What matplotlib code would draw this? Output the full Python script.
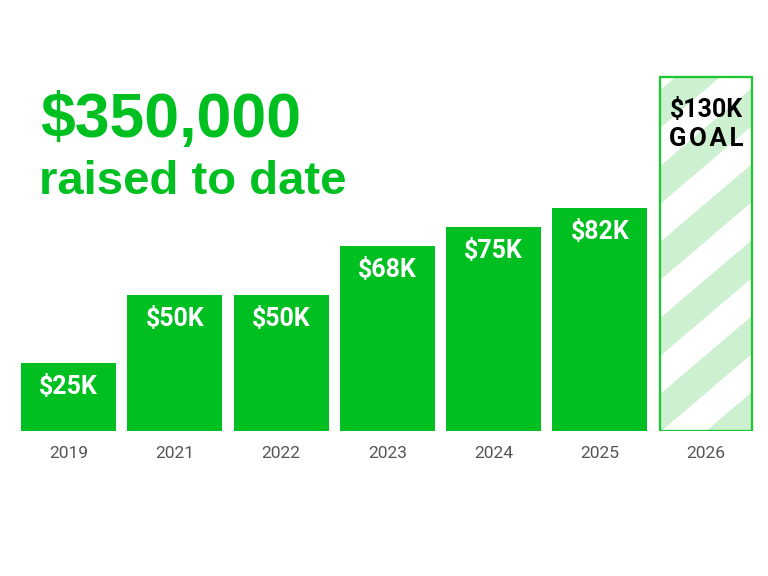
import matplotlib
matplotlib.use("Agg")
import matplotlib.pyplot as plt
from matplotlib.transforms import IdentityTransform
import numpy as np

# ---- data ----
years = ["2019", "2021", "2022", "2023", "2024", "2025"]
raised = [25, 50, 50, 68, 75, 82]          # $K
raised_labels = ["$25K", "$50K", "$50K", "$68K", "$75K", "$82K"]
goal_year = "2026"
goal_value = 130
goal_label = "$130K"
goal_word = "G\u200aO\u200aA\u200aL"
total_text = "$350,000"
subtitle_text = "raised to date"

GREEN = "#00BF20"
EDGE_GREEN = "#1EC632"
STRIPE = "#CDF0D1"

fig = plt.figure(figsize=(7.68, 5.76), dpi=100)
ax = fig.add_axes([15.4 / 768, 145 / 576, 743.8 / 768, 431 / 576])
ax.set_xlim(-0.5, 6.5)
ax.set_ylim(0, 431 / 2.72)
for s in ax.spines.values():
    s.set_visible(False)
ax.set_yticks([])

x = np.arange(len(years))
ax.bar(x, raised, width=0.894, color=GREEN, linewidth=0, zorder=2)

# goal bar: white fill, stripes, then outline
gx = len(years)
goal_fill = ax.bar([gx], [goal_value], width=0.865, color="white", linewidth=0, zorder=1)[0]
ax.bar([gx], [goal_value], width=0.865, facecolor="none", edgecolor=EDGE_GREEN,
       linewidth=2.3 * 72 / 100, zorder=4)

ax.set_xticks(list(x) + [gx])
ax.set_xticklabels(years + [goal_year], fontfamily="Roboto", fontsize=12.5, color="#555555")
ax.tick_params(axis="x", length=0, pad=10.5)

for xi, v, lab in zip(x, raised, raised_labels):
    ax.annotate(lab, xy=(xi, v), xytext=(0, -31 * 0.72), textcoords="offset points",
                ha="center", va="baseline", color="white", fontsize=18,
                fontfamily="Roboto", fontweight="bold", zorder=5)

ax.annotate(goal_label, xy=(gx, goal_value), xytext=(0, -40 * 0.72), textcoords="offset points",
            ha="center", va="baseline", color="black", fontsize=18,
            fontfamily=["Roboto", "DejaVu Sans"], fontweight="bold", zorder=5)
ax.annotate(goal_word, xy=(gx, goal_value), xytext=(0, -68.7 * 0.72), textcoords="offset points",
            ha="center", va="baseline", color="black", fontsize=18.5,
            fontfamily=["Roboto", "DejaVu Sans"], fontweight="bold", zorder=5)

fig.text(40 / 768, (576 - 137) / 576, total_text, fontfamily="Liberation Sans",
         fontweight="bold", fontsize=45, color=GREEN, ha="left", va="baseline")
fig.text(39 / 768, (576 - 194) / 576, subtitle_text, fontfamily="Liberation Sans",
         fontweight="bold", fontsize=34, color=GREEN, ha="left", va="baseline")

# diagonal stripes inside the goal bar (decoration derived from bar geometry)
fig.canvas.draw()
bb = goal_fill.get_window_extent()
period = 76.0
slope = 0.85
band = period * 0.5  # vertical thickness of each light band (pixels)
k0 = int(np.floor(-(slope * bb.width + period) / period)) - 1
k1 = int(np.ceil((bb.height + period) / period)) + 1
xa, xb = bb.x0 - 5, bb.x1 + 5
for k in range(k0, k1):
    c = bb.y0 + 18 + period * k - band / 2
    ya, yb = c + slope * (xa - bb.x0), c + slope * (xb - bb.x0)
    poly, = ax.fill([xa, xb, xb, xa], [ya, yb, yb + band, ya + band], color=STRIPE,
                    linewidth=0, transform=IdentityTransform(), zorder=3)
    poly.set_clip_path(goal_fill)

fig.savefig("out.png", dpi=100)
